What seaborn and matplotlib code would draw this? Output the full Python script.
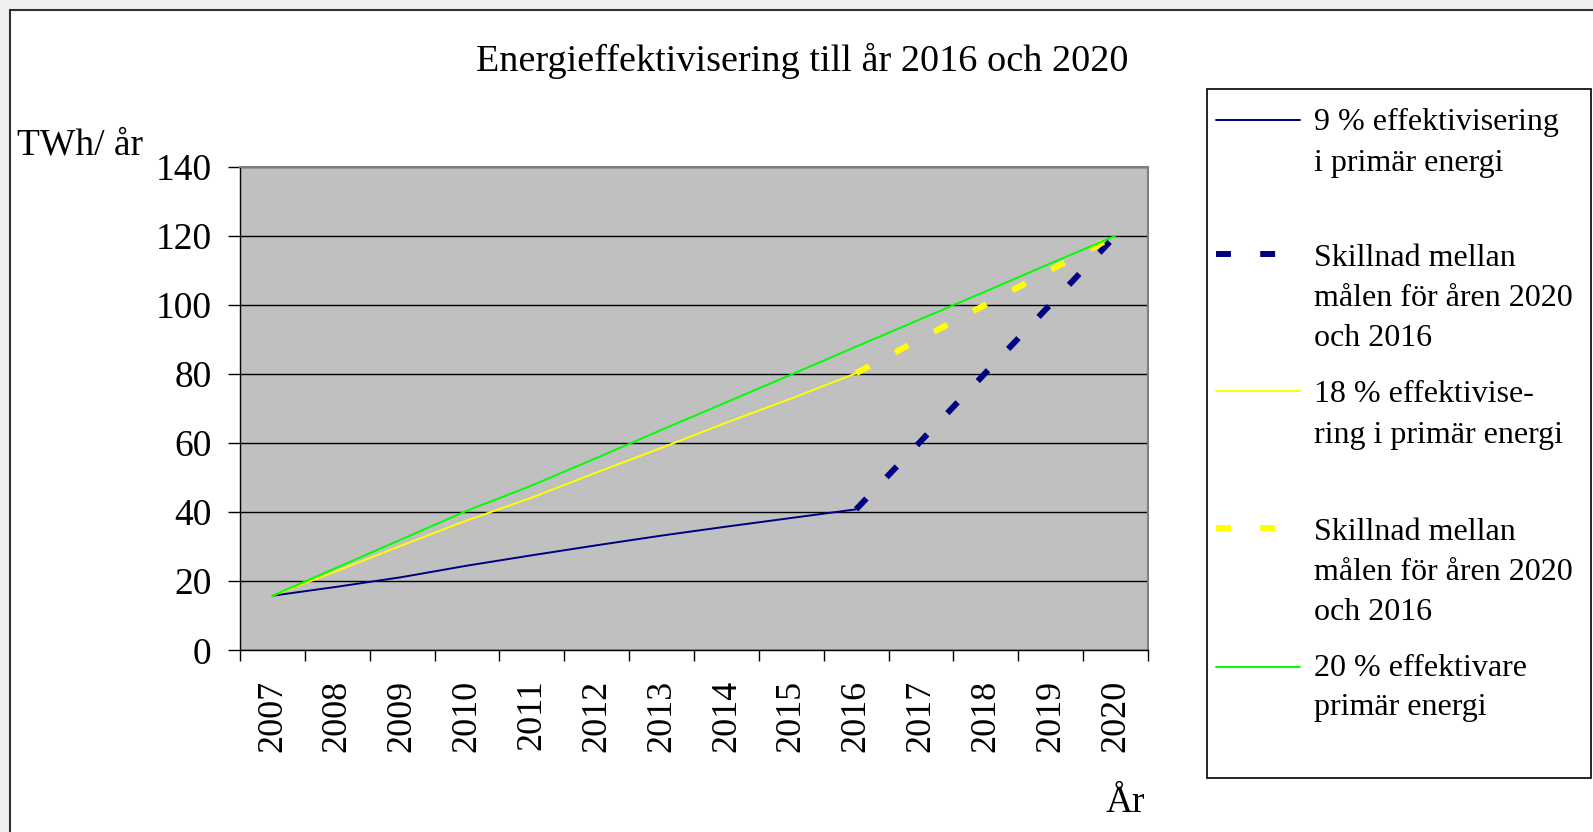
import numpy as np
import pandas as pd
import matplotlib
matplotlib.use("Agg")
import matplotlib.pyplot as plt
from matplotlib.lines import Line2D
from matplotlib.patches import Rectangle
import seaborn as sns

# ---------------- data ----------------
years = ["2007", "2008", "2009", "2010", "2011", "2012", "2013",
         "2014", "2015", "2016", "2017", "2018", "2019", "2020"]
eff9 = [15.8, 18.4, 21.2, 24.5, 27.5, 30.4, 33.2, 35.8, 38.3, 40.8,
        None, None, None, None]
diff9 = [None, None, None, None, None, None, None, None, None, 40.8,
         60.6, 80.4, 100.2, 120.0]
eff18 = [15.8, 23.0, 30.4, 37.6, 44.2, 51.5, 58.6, 65.9, 72.9, 80.2,
         None, None, None, None]
diff18 = [None, None, None, None, None, None, None, None, None, 80.2,
          90.2, 100.1, 110.1, 120.0]
eff20 = [15.8, 24.0, 32.2, 40.4, 47.7, 55.7, 63.8, 71.8, 79.8, 87.9,
         95.9, 103.9, 112.0, 120.0]
yticks = [0, 20, 40, 60, 80, 100, 120, 140]

title = "Energieffektivisering till år 2016 och 2020"
ylabel = "TWh/ år"
xlabel = "År"
legend_texts = [
    ["9 % effektivisering", "i primär energi"],
    ["Skillnad mellan", "målen för åren 2020", "och 2016"],
    ["18 % effektivise-", "ring i primär energi"],
    ["Skillnad mellan", "målen för åren 2020", "och 2016"],
    ["20 % effektivare", "primär energi"],
]

# ---------------- style ----------------
sns.set_theme(style="ticks")
plt.rcParams['font.family'] = ['Liberation Serif', 'DejaVu Serif']
plt.rcParams['text.color'] = 'black'
plt.rcParams['axes.labelcolor'] = 'black'
plt.rcParams['xtick.color'] = 'black'
plt.rcParams['ytick.color'] = 'black'

W, H = 1593, 832
fig = plt.figure(figsize=(W / 100, H / 100), dpi=100, facecolor='#f0f0f0')

# white chart area with border (Excel chart frame)
fig.patches.append(Rectangle((10 / W, -0.02), 1.0, 1.02 - 10 / H,
                             transform=fig.transFigure, facecolor='white',
                             edgecolor='#303030', lw=1.5, zorder=-10))

px_l, px_r, px_t, px_b = 240, 1148, 166.6, 650.3
ax = fig.add_axes([px_l / W, 1 - px_b / H, (px_r - px_l) / W, (px_b - px_t) / H])
ax.set_facecolor('#c0c0c0')

NAVY, YEL, GRN = '#000080', '#ffff00', '#00ff00'
solid_lw = 1.4
dash_lw = 4.3
dash_ls = (0, (2.5, 4.9))

series = [
    (eff9, NAVY, solid_lw, '-'),
    (diff9, NAVY, dash_lw, dash_ls),
    (eff18, YEL, solid_lw, '-'),
    (diff18, YEL, dash_lw, dash_ls),
    (eff20, GRN, solid_lw, '-'),
]
for vals, col, lw, ls in series:
    df = pd.DataFrame({"x": np.arange(len(years)), "y": vals}).dropna()
    sns.lineplot(data=df, x="x", y="y", ax=ax, color=col, linewidth=lw,
                 linestyle=ls, legend=False, zorder=3)

# axes
ax.set_ylim(0, 140)
ax.set_yticks(yticks)
ax.set_yticklabels([str(v) for v in yticks])
ax.yaxis.grid(True, color='black', lw=1.0)
ax.set_axisbelow(True)
ax.set_xlim(-0.5, len(years) - 0.5)
ax.set_xticks(np.arange(-0.5, len(years), 1.0))
ax.set_xticklabels([])
ax.set_xticks(np.arange(len(years)), minor=True)
ax.set_xticklabels(years, minor=True, rotation=90, ha='center', va='top')

ax.tick_params(axis='y', which='major', direction='out', length=8.6, width=1,
               color='black', pad=12, labelsize=27, left=True)
ax.tick_params(axis='x', which='major', direction='out', length=8, width=1,
               color='black', bottom=True)
ax.tick_params(axis='x', which='minor', length=0, pad=21, labelsize=26)

for s in ['left', 'bottom']:
    ax.spines[s].set_color('black')
    ax.spines[s].set_linewidth(1.0)
for s in ['top', 'right']:
    ax.spines[s].set_color('#808080')
    ax.spines[s].set_linewidth(1.5)

ax.set_ylabel(ylabel, rotation=0, fontsize=27, ha='left', va='center')
ax.yaxis.set_label_coords((17 - px_l) / (px_r - px_l), (px_b - 145) / (px_b - px_t))
ax.set_xlabel(xlabel, fontsize=27, ha='center', va='center')
ax.xaxis.set_label_coords((1125 - px_l) / (px_r - px_l), (px_b - 803) / (px_b - px_t))

fig.text(802 / W, 1 - 61 / H, title, fontsize=27.5, ha='center', va='center')

# ---------------- legend (Excel style, handle aligned with first line) ----------------
fig.patches.append(Rectangle((1207 / W, 1 - 778 / H), (1591 - 1207) / W, (778 - 89) / H,
                             transform=fig.transFigure, facecolor='white',
                             edgecolor='black', lw=1.2, zorder=1))
handle_y = [120, 254, 391, 528, 667]
text_y = [[122, 163], [259, 299, 338], [394, 435], [532, 572, 612], [669, 708]]
for (vals, col, lw, ls), hy, lines, tys in zip(series, handle_y, legend_texts, text_y):
    fig.add_artist(Line2D([1216 / W, 1300 / W], [1 - hy / H, 1 - hy / H],
                          transform=fig.transFigure, color=col, lw=lw,
                          linestyle=ls, zorder=2))
    for t, yy in zip(lines, tys):
        fig.text(1314 / W, 1 - yy / H, t, fontsize=23, ha='left', va='center', zorder=3)

fig.savefig("out.png", dpi=100, facecolor=fig.get_facecolor())
